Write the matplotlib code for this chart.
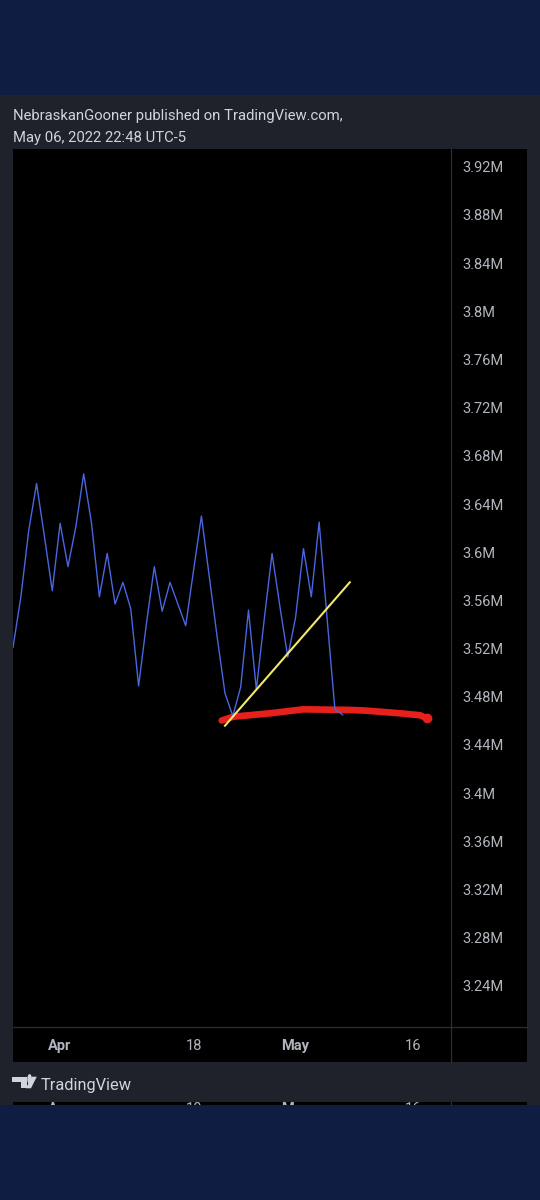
import numpy as np
import pandas as pd
import matplotlib
matplotlib.use("Agg")
import matplotlib.pyplot as plt
from matplotlib.patches import Rectangle, Polygon, Circle
from matplotlib.lines import Line2D

# ---------------- data ----------------
start_date = "2022-03-26"
values_m = [3.521, 3.563, 3.618, 3.657, 3.613, 3.568, 3.624, 3.588, 3.621, 3.665,
            3.624, 3.563, 3.599, 3.557, 3.575, 3.553, 3.489, 3.541, 3.588, 3.551,
            3.575, 3.557, 3.539, 3.585, 3.630, 3.580, 3.530, 3.483, 3.464, 3.488,
            3.552, 3.486, 3.544, 3.599, 3.555, 3.513, 3.546, 3.603, 3.563, 3.625,
            3.546, 3.470, 3.465]
# hand-drawn yellow trend line (days after start, value in M)
trend_days = [27.0, 42.9]
trend_vals = [3.456, 3.575]
# hand-drawn red support line
support_days = [26.59, 28.07, 32.74, 36.98, 42.93, 45.06, 49.3, 51.85, 52.7]
support_vals = [3.4603, 3.4635, 3.4663, 3.4696, 3.4691, 3.4685, 3.4663, 3.4647, 3.4622]

y_ticks = [3.24, 3.28, 3.32, 3.36, 3.40, 3.44, 3.48, 3.52, 3.56, 3.60,
           3.64, 3.68, 3.72, 3.76, 3.80, 3.84, 3.88, 3.92]
y_labels = ["3.24M", "3.28M", "3.32M", "3.36M", "3.4M", "3.44M", "3.48M", "3.52M",
            "3.56M", "3.6M", "3.64M", "3.68M", "3.72M", "3.76M", "3.8M", "3.84M",
            "3.88M", "3.92M"]
x_tick_dates = ["2022-04-01", "2022-04-18", "2022-05-01", "2022-05-16"]
x_tick_labels = ["Apr", "18", "May", "16"]
x_tick_bold = [True, False, True, False]

header1 = "NebraskanGooner published on TradingView.com,"
header2 = "May 06, 2022 22:48 UTC-5"
brand = "TradingView"

# ---------------- style ----------------
NAVY = "#0f1d42"
CARD = "#1f222b"
PANE = "#000000"
SEP = "#2a2e39"
TXT = "#d1d4dc"
TICK = "#b2b5be"
BLUE = "#4a66e0"
YELLOW = "#f3e86a"
RED = "#e8201c"
FONT = "Roboto"

W, H = 540, 1200
fig = plt.figure(figsize=(5.4, 12), dpi=100, facecolor=CARD)


def fx(x):
    return x / W


def fy(y):
    return 1 - y / H


def frect(x0, y0, x1, y1, color, z=-1):
    fig.add_artist(Rectangle((fx(x0), fy(y1)), (x1 - x0) / W, (y1 - y0) / H,
                             transform=fig.transFigure, facecolor=color,
                             edgecolor="none", zorder=z))


def fline(x0, y0, x1, y1, color, lw=1.0, z=3):
    fig.add_artist(Line2D([fx(x0), fx(x1)], [fy(y0), fy(y1)], transform=fig.transFigure,
                          color=color, lw=lw, zorder=z))


# background bands
frect(0, 0, W, 94.5, NAVY)
frect(0, 1105, W, H, NAVY)
# chart pane (plot + price scale + time scale)
L, T, R, B = 12.7, 149.3, 450.7, 1026.7
PR, TB = 526.7, 1061.5
frect(L, T, PR, TB, PANE)
# bottom peeking strip
frect(L, 1102, PR, 1105, PANE)

# header text
fig.text(fx(12.7), fy(120.3), header1, fontsize=10.7, color=TXT, family=FONT,
         va="baseline", ha="left")
fig.text(fx(12.7), fy(141.7), header2, fontsize=10.7, color=TXT, family=FONT,
         va="baseline", ha="left")

# main axes
ax = fig.add_axes([fx(L), fy(B), (R - L) / W, (B - T) / H])
ax.set_facecolor(PANE)
for s in ax.spines.values():
    s.set_visible(False)

t0 = pd.Timestamp(start_date)
dates = pd.date_range(start_date, periods=len(values_m), freq="D")
trend_x = t0 + pd.to_timedelta(trend_days, unit="D")
support_x = t0 + pd.to_timedelta(support_days, unit="D")

ax.plot(support_x, support_vals, color=RED, lw=4.8, solid_capstyle="round",
        solid_joinstyle="round", zorder=2)
ax.plot(support_x[-1:], support_vals[-1:], "o", color=RED, ms=6, zorder=2)
ax.plot(dates, values_m, color=BLUE, lw=1.0, zorder=3)
ax.plot(trend_x, trend_vals, color=YELLOW, lw=1.5, zorder=4)

ax.set_xlim(t0 - pd.Timedelta(hours=1), t0 + pd.Timedelta(days=55.76))
ax.set_ylim(3.2062, 3.9344)

ax.yaxis.tick_right()
ax.set_yticks(y_ticks, labels=y_labels)
ax.tick_params(axis="y", length=0, pad=8.6, labelsize=10.5, labelcolor=TICK)
for lab in ax.get_yticklabels():
    lab.set_family(FONT)
    lab.set_horizontalalignment("left")

ax.set_xticks(pd.to_datetime(x_tick_dates), labels=x_tick_labels)
ax.tick_params(axis="x", length=0, pad=9.0, labelsize=10.5, labelcolor=TICK)
for lab, b in zip(ax.get_xticklabels(), x_tick_bold):
    lab.set_family(FONT)
    lab.set_fontweight("bold" if b else "normal")
ax.grid(False)

# separators
fline(R, T, R, TB, SEP, lw=0.9)
fline(L, B, PR, B, SEP, lw=0.9)
fline(R, 1102, R, 1105, SEP, lw=0.9)

# peeking strip labels (clipped)
ax2 = fig.add_axes([fx(L), fy(1105), (R - L) / W, 3 / H], sharex=ax)
ax2.set_facecolor(PANE)
ax2.set_ylim(0, 1)
ax2.axis("off")
ax2.patch.set_visible(True)
for d, lab, b in zip(pd.to_datetime(x_tick_dates), x_tick_labels, x_tick_bold):
    ax2.text(d, 1.0, lab, transform=ax2.get_xaxis_transform(), ha="center", va="top",
             fontsize=10.5, color=TICK, family=FONT, fontweight="bold" if b else "normal",
             clip_on=True)

# TradingView logo (simple shapes) + brand text
lg = [(12.3, 1076.7), (26.7, 1076.7), (26.7, 1088.3), (20.7, 1088.3),
      (20.7, 1081.7), (12.3, 1081.7)]
fig.add_artist(Polygon([(fx(x), fy(y)) for x, y in lg], closed=True,
                       transform=fig.transFigure, facecolor=TXT, edgecolor="none"))
fig.add_artist(Circle((fx(29.6), fy(1079.2)), 2.3 / W, transform=fig.transFigure,
                      facecolor=TXT, edgecolor="none"))
lg2 = [(32.0, 1076.7), (36.8, 1076.7), (31.0, 1088.3), (25.8, 1088.3)]
fig.add_artist(Polygon([(fx(x), fy(y)) for x, y in lg2], closed=True,
                       transform=fig.transFigure, facecolor=TXT, edgecolor="none"))
fig.text(fx(40.5), fy(1090), brand, fontsize=11.8, color=TXT, family=FONT,
         va="baseline", ha="left")

fig.savefig("out.png", dpi=100, facecolor=fig.get_facecolor())
